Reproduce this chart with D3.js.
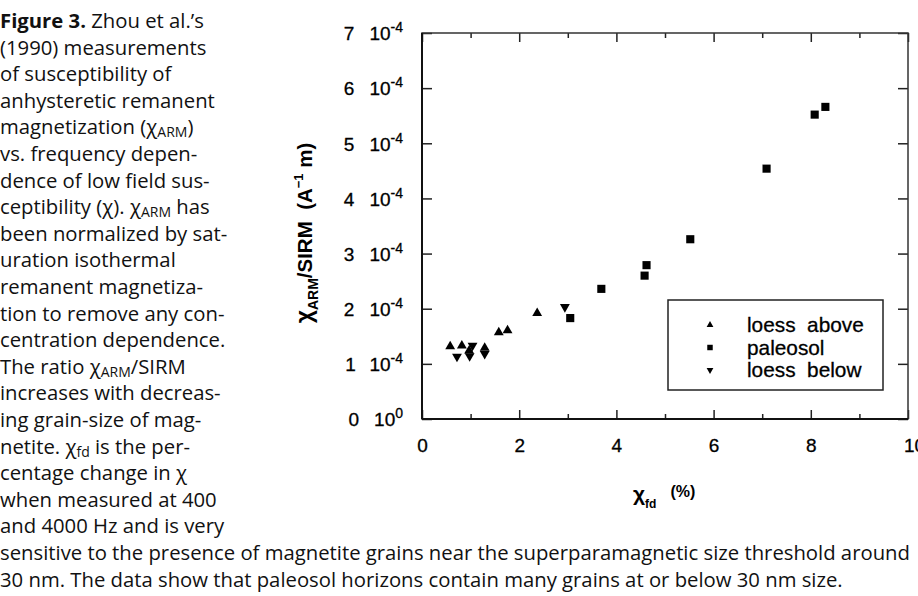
<!DOCTYPE html>
<html>
<head>
<meta charset="utf-8">
<script src="https://cdn.jsdelivr.net/npm/d3@7"></script>
<style>
  body { margin: 0; background: #fff; }
  svg { display: block; }
</style>
</head>
<body>
<div id="chart"></div>
<script>
// caption text, one entry per printed line; segments are [text, kind]
const captionLines = [
  [["Figure 3.", "b"], [" Zhou et al.’s", "n"]],
  [["(1990) measurements", "n"]],
  [["of susceptibility of", "n"]],
  [["anhysteretic remanent", "n"]],
  [["magnetization (χ", "n"], ["ARM", "sub"], [")", "n"]],
  [["vs. frequency depen-", "n"]],
  [["dence of low field sus-", "n"]],
  [["ceptibility (χ). χ", "n"], ["ARM", "sub"], [" has", "n"]],
  [["been normalized by sat-", "n"]],
  [["uration isothermal", "n"]],
  [["remanent magnetiza-", "n"]],
  [["tion to remove any con-", "n"]],
  [["centration dependence.", "n"]],
  [["The ratio χ", "n"], ["ARM", "sub"], ["/SIRM", "n"]],
  [["increases with decreas-", "n"]],
  [["ing grain-size of mag-", "n"]],
  [["netite. χ", "n"], ["fd", "sub"], [" is the per-", "n"]],
  [["centage change in χ", "n"]],
  [["when measured at 400", "n"]],
  [["and 4000 Hz and is very", "n"]],
  [["sensitive to the presence of magnetite grains near the superparamagnetic size threshold around", "n"]],
  [["30 nm. The data show that paleosol horizons contain many grains at or below 30 nm size.", "n"]]
];

// chi_fd (%) and chi_ARM/SIRM (in units of 1e-4 A^-1 m)
const loessAboveX = [0.58, 0.82, 0.97, 1.29, 1.58, 1.76, 2.37];
const loessAboveY = [1.30, 1.31, 1.22, 1.27, 1.55, 1.59, 1.90];
const paleosolX = [3.05, 3.69, 4.58, 4.62, 5.52, 7.09, 8.08, 8.30];
const paleosolY = [1.83, 2.36, 2.60, 2.79, 3.26, 4.54, 5.52, 5.66];
const loessBelowX = [0.72, 1.04, 0.98, 1.29, 2.94];
const loessBelowY = [1.15, 1.35, 1.16, 1.20, 2.05];

const xTicks = [0, 2, 4, 6, 8, 10];
const xMinorTicks = [1, 3, 5, 7, 9];
const yTicks = [0, 1, 2, 3, 4, 5, 6, 7];
const yTickExp = ["0", "-4", "-4", "-4", "-4", "-4", "-4", "-4"];
const legendNames = ["loess above", "paleosol", "loess below"];

const W = 918, H = 596;
const svg = d3.select("#chart").append("svg").attr("width", W).attr("height", H);

// caption
const capFont = "'Open Sans', 'Noto Sans', sans-serif";
const cap = svg.append("g").attr("font-family", capFont).attr("font-size", 20.3).attr("fill", "#111");
captionLines.forEach((segs, i) => {
  const t = cap.append("text").attr("x", 0).attr("y", 28 + i * 26.6);
  segs.forEach((s, k) => {
    const sp = t.append("tspan").text(s[0]);
    if (s[1] == "b") sp.attr("font-weight", "bold");
    if (s[1] == "sub") sp.attr("font-size", 14).attr("dy", 3);
    else if (k > 0 && segs[k - 1][1] == "sub") sp.attr("dy", -3);
  });
});

// chart
const margin = {left: 422, top: 33, right: 908, bottom: 419};
const xScale = d3.scaleLinear().domain([0, 10]).range([margin.left, margin.right]);
const yScale = d3.scaleLinear().domain([0, 7]).range([margin.bottom, margin.top]);

const chartFont = "'Liberation Sans', Arial, sans-serif";
const chart = svg.append("g").attr("font-family", chartFont);

// axes (ticks point inward)
function styleAxis(g) {
  g.select(".domain").remove();
  g.selectAll(".tick line").attr("stroke", "#222").attr("stroke-width", 1.5);
}
chart.append("g").attr("transform", `translate(0,${margin.bottom})`)
  .call(d3.axisBottom(xScale).tickValues(xMinorTicks).tickSize(-5).tickFormat(""))
  .call(styleAxis);
chart.append("g").attr("transform", `translate(0,${margin.top})`)
  .call(d3.axisTop(xScale).tickValues(xMinorTicks).tickSize(-5).tickFormat(""))
  .call(styleAxis);
chart.append("g").attr("transform", `translate(0,${margin.top})`)
  .call(d3.axisTop(xScale).tickValues(xTicks).tickSize(-9).tickFormat(""))
  .call(styleAxis);
chart.append("g").attr("transform", `translate(${margin.right},0)`)
  .call(d3.axisRight(yScale).tickValues(yTicks).tickSize(-10).tickFormat(""))
  .call(styleAxis);

const xAxisG = chart.append("g").attr("transform", `translate(0,${margin.bottom})`)
  .call(d3.axisBottom(xScale).tickValues(xTicks).tickSize(-9).tickPadding(20).tickFormat(d3.format("d")))
  .call(styleAxis);
xAxisG.selectAll("text").attr("font-size", 19).attr("font-family", chartFont).attr("fill", "#000")
  .attr("stroke", "#000").attr("stroke-width", 0.3);
xAxisG.selectAll(".tick").filter(d => d == 10).select("text").attr("dx", 6);

const yAxisG = chart.append("g").attr("transform", `translate(${margin.left},0)`)
  .call(d3.axisLeft(yScale).tickValues(yTicks).tickSize(-10).tickPadding(19).tickFormat(""))
  .call(styleAxis);
yAxisG.selectAll(".tick text").each(function(d, i) {
  const t = d3.select(this).attr("font-size", 19).attr("font-family", chartFont).attr("fill", "#000")
    .attr("stroke", "#000").attr("stroke-width", 0.3).attr("dy", "0.36em").text(null);
  t.append("tspan").text(d);
  t.append("tspan").attr("dx", 15).text("10");
  t.append("tspan").attr("font-size", 14).attr("dy", -8).text(yTickExp[i]);
});

// frame
chart.append("rect")
  .attr("x", margin.left).attr("y", margin.top)
  .attr("width", margin.right - margin.left).attr("height", margin.bottom - margin.top)
  .attr("fill", "none").attr("stroke", "#333").attr("stroke-width", 1.5);
chart.append("line")
  .attr("x1", margin.left).attr("x2", margin.right)
  .attr("y1", margin.bottom).attr("y2", margin.bottom)
  .attr("stroke", "#111").attr("stroke-width", 2.2);
chart.append("line")
  .attr("x1", margin.left).attr("x2", margin.left)
  .attr("y1", margin.top).attr("y2", margin.bottom)
  .attr("stroke", "#111").attr("stroke-width", 2);

// markers
const upTri = d3.symbol().type(d3.symbolTriangle).size(42);
const square = d3.symbol().type(d3.symbolSquare).size(66);
const series = [
  {xs: loessAboveX, ys: loessAboveY, path: upTri(), rot: 0, dy: -1},
  {xs: paleosolX, ys: paleosolY, path: square(), rot: 0, dy: 0},
  {xs: loessBelowX, ys: loessBelowY, path: upTri(), rot: 180, dy: 1}
];
const marks = chart.append("g");
series.forEach(s => {
  marks.selectAll(null).data(s.xs.map((x, i) => [x, s.ys[i]])).enter()
    .append("path")
    .attr("d", s.path)
    .attr("transform", d => `translate(${xScale(d[0])},${yScale(d[1]) + s.dy}) rotate(${s.rot})`)
    .attr("fill", "#000");
});

// legend
const lg = chart.append("g");
lg.append("rect").attr("x", 668).attr("y", 300).attr("width", 215).attr("height", 90)
  .attr("fill", "#fff").attr("stroke", "#222").attr("stroke-width", 1.5);
const legendSyms = [d3.symbol().type(d3.symbolTriangle).size(20)(), d3.symbol().type(d3.symbolSquare).size(30)(), d3.symbol().type(d3.symbolTriangle).size(20)()];
const legendRot = [0, 0, 180];
legendNames.forEach((name, i) => {
  const yy = 325 + i * 22.5;
  lg.append("path").attr("d", legendSyms[i]).attr("transform", `translate(710,${yy}) rotate(${legendRot[i]})`).attr("fill", "#000");
  lg.append("text").attr("x", 747).attr("y", yy).attr("dy", "0.36em")
    .attr("font-size", 20.8).attr("fill", "#000").attr("stroke", "#000").attr("stroke-width", 0.3)
    .style("white-space", "pre")
    .text(name.replace(" ", "  "));
});

// axis titles
const xt = chart.append("text").attr("x", 633).attr("y", 501).attr("fill", "#000");
xt.append("tspan").attr("font-size", 21).attr("font-weight", "bold").text("χ");
xt.append("tspan").attr("font-size", 12).attr("font-weight", "bold").attr("dy", 7).text("fd");
xt.append("tspan").attr("font-size", 16).attr("font-weight", "bold").attr("dy", -11).attr("dx", 14).text("(%)");

const yt = chart.append("text").attr("transform", "translate(312,233) rotate(-90)")
  .attr("text-anchor", "middle").attr("fill", "#000").attr("font-weight", "bold")
  .style("white-space", "pre");
yt.append("tspan").attr("font-size", 23).text("χ");
yt.append("tspan").attr("font-size", 14).attr("dy", 6).text("ARM");
yt.append("tspan").attr("font-size", 20.5).attr("dy", -6).text("/SIRM  (A");
yt.append("tspan").attr("font-size", 13).attr("dy", -9).text("−1");
yt.append("tspan").attr("font-size", 20.5).attr("dy", 9).text(" m)");
</script>
</body>
</html>
